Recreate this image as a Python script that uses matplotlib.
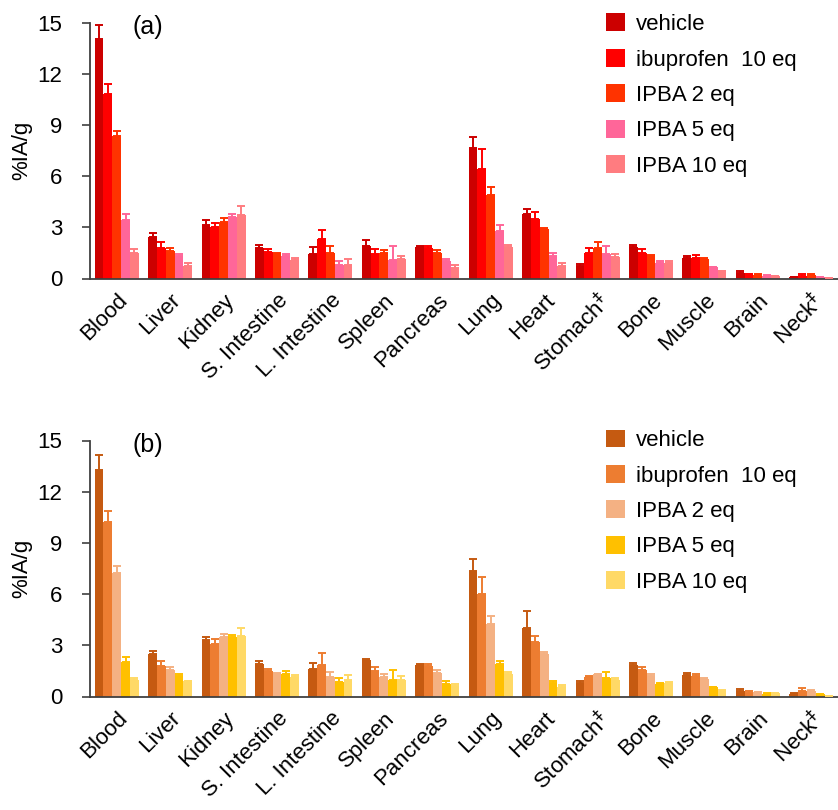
import matplotlib
matplotlib.use("Agg")
import matplotlib.pyplot as plt
import numpy as np

plt.rcParams['font.family'] = ['Liberation Sans', 'DejaVu Sans']

categories = ["Blood", "Liver", "Kidney", "S. Intestine", "L. Intestine", "Spleen",
              "Pancreas", "Lung", "Heart", "Stomach$^{‡}$", "Bone", "Muscle", "Brain", "Neck$^{‡}$"]
series_names = ["vehicle", "ibuprofen  10 eq", "IPBA 2 eq", "IPBA 5 eq", "IPBA 10 eq"]
yticks = [0, 3, 6, 9, 12, 15]

# Panel (a)
a_vehicle = [14.02, 2.44, 3.16, 1.80, 1.45, 1.93, 1.84, 7.66, 3.79, 0.74, 1.84, 1.23, 0.33, 0.06]
a_vehicle_err = [0.84, 0.25, 0.24, 0.19, 0.39, 0.34, 0.09, 0.66, 0.29, 0.12, 0.13, 0.08, 0.12, 0.0]
a_ibu = [10.81, 1.81, 2.99, 1.54, 2.29, 1.41, 1.80, 6.41, 3.46, 1.52, 1.52, 1.21, 0.25, 0.16]
a_ibu_err = [0.57, 0.33, 0.29, 0.16, 0.56, 0.33, 0.13, 1.19, 0.41, 0.24, 0.22, 0.18, 0.04, 0.09]
a_ipba2 = [8.33, 1.62, 3.32, 1.46, 1.48, 1.48, 1.48, 4.90, 2.89, 1.78, 1.31, 1.13, 0.23, 0.18]
a_ipba2_err = [0.30, 0.17, 0.25, 0.04, 0.40, 0.20, 0.20, 0.45, 0.08, 0.37, 0.08, 0.10, 0.02, 0.09]
a_ipba5 = [3.42, 1.29, 3.59, 1.31, 0.78, 1.11, 1.00, 2.79, 1.33, 1.41, 0.92, 0.66, 0.16, 0.08]
a_ipba5_err = [0.35, 0.17, 0.19, 0.12, 0.24, 0.77, 0.15, 0.32, 0.15, 0.47, 0.12, 0.03, 0.02, 0.02]
a_ipba10 = [1.48, 0.74, 3.73, 1.11, 0.82, 1.17, 0.63, 1.84, 0.72, 1.25, 0.92, 0.43, 0.14, 0.04]
a_ipba10_err = [0.26, 0.14, 0.52, 0.10, 0.33, 0.16, 0.17, 0.15, 0.16, 0.21, 0.13, 0.03, 0.02, 0.01]

# Panel (b)
b_vehicle = [13.30, 2.50, 3.30, 1.93, 1.60, 2.11, 1.86, 7.38, 4.04, 0.80, 1.86, 1.25, 0.35, 0.16]
b_vehicle_err = [0.86, 0.14, 0.20, 0.16, 0.39, 0.10, 0.03, 0.67, 0.98, 0.10, 0.09, 0.10, 0.10, 0.02]
b_ibu = [10.21, 1.80, 3.09, 1.48, 1.84, 1.48, 1.78, 6.02, 3.22, 1.17, 1.56, 1.19, 0.20, 0.35]
b_ibu_err = [0.67, 0.29, 0.29, 0.14, 0.70, 0.22, 0.10, 1.01, 0.32, 0.03, 0.16, 0.10, 0.11, 0.14]
b_ipba2 = [7.25, 1.54, 3.46, 1.33, 1.13, 1.13, 1.39, 4.22, 2.48, 1.29, 1.23, 1.04, 0.25, 0.31]
b_ipba2_err = [0.37, 0.16, 0.21, 0.02, 0.32, 0.16, 0.17, 0.51, 0.14, 0.03, 0.10, 0.07, 0.03, 0.10]
b_ipba5 = [2.05, 1.19, 3.50, 1.29, 0.84, 0.94, 0.76, 1.93, 0.78, 1.09, 0.76, 0.53, 0.16, 0.12]
b_ipba5_err = [0.27, 0.14, 0.11, 0.21, 0.27, 0.60, 0.16, 0.16, 0.14, 0.36, 0.03, 0.02, 0.02, 0.02]
b_ipba10 = [0.94, 0.88, 3.57, 1.13, 0.98, 0.98, 0.61, 1.29, 0.57, 0.96, 0.82, 0.35, 0.18, 0.04]
b_ipba10_err = [0.13, 0.04, 0.45, 0.14, 0.29, 0.21, 0.13, 0.16, 0.11, 0.11, 0.04, 0.02, 0.02, 0.01]

colors_a = ["#CC0000", "#FF0000", "#FF3300", "#FF6699", "#FF7C80"]
colors_b = ["#C55A11", "#ED7D31", "#F4B183", "#FFC000", "#FFD966"]

fig = plt.figure(figsize=(8.38, 8.10), dpi=100)
W, H = 838, 810
FS = 16


def panel(rect, vals, errs, colors, tag, tag_top, leg_top):
    ax = fig.add_axes(rect)
    x = np.arange(len(categories))
    n = len(vals)
    bw = 0.165
    for i, (v, e, c, name) in enumerate(zip(vals, errs, colors, series_names)):
        pos = x + (i - (n - 1) / 2) * bw
        ax.bar(pos, v, width=bw, color=c, label=name, zorder=2)
        ax.errorbar(pos, v, yerr=[np.zeros(len(v)), e], fmt='none', ecolor=c,
                    elinewidth=1.4, capsize=3.2, capthick=1.4, zorder=3)
    ax.set_xlim(-0.5, 13.5)
    ax.set_ylim(0, 15)
    ax.set_yticks(yticks)
    ax.set_yticklabels([str(t) for t in yticks], fontsize=FS)
    ax.set_xticks(x)
    ax.set_xticklabels(categories, rotation=45, ha='right', rotation_mode='anchor', fontsize=FS)
    ax.tick_params(axis='x', length=0, pad=8)
    ax.tick_params(axis='y', length=6, width=1.2, color='#404040', pad=14, direction='out')
    for s in ['top', 'right']:
        ax.spines[s].set_visible(False)
    for s in ['left', 'bottom']:
        ax.spines[s].set_color('#404040')
        ax.spines[s].set_linewidth(1.3)
    ax.set_ylabel('%IA/g', fontsize=FS, labelpad=4)
    fig.text(133 / W, 1 - tag_top / H, tag, fontsize=18, va='top')
    ax.legend(loc='upper left', bbox_to_anchor=(606 / W, 1 - leg_top / H),
              bbox_transform=fig.transFigure, frameon=False, fontsize=FS,
              handlelength=0.86, handleheight=0.86, handletextpad=0.5,
              labelspacing=0.62, borderpad=0, borderaxespad=0)
    return ax


panel([90 / W, 1 - 278.5 / H, (838 - 90) / W, 256 / H],
      [a_vehicle, a_ibu, a_ipba2, a_ipba5, a_ipba10],
      [a_vehicle_err, a_ibu_err, a_ipba2_err, a_ipba5_err, a_ipba10_err],
      colors_a, '(a)', 15, 13.5)
panel([90 / W, 1 - 696.5 / H, (838 - 90) / W, 256 / H],
      [b_vehicle, b_ibu, b_ipba2, b_ipba5, b_ipba10],
      [b_vehicle_err, b_ibu_err, b_ipba2_err, b_ipba5_err, b_ipba10_err],
      colors_b, '(b)', 433, 429.5)

fig.savefig('out.png', dpi=100)
